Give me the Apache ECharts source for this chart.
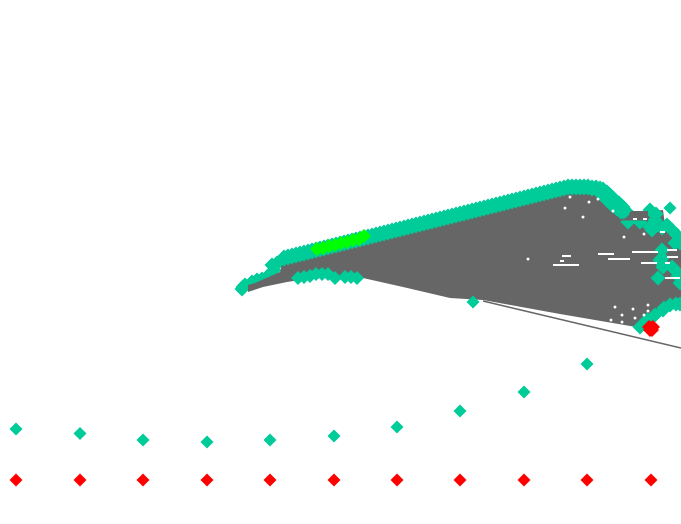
<!DOCTYPE html>
<html>
<head>
<meta charset="utf-8">
<style>
html, body { margin: 0; padding: 0; background: #fff; }
#main { width: 681px; height: 524px; }
</style>
<script src="https://cdn.jsdelivr.net/npm/echarts@6/dist/echarts.min.js"></script>
</head>
<body>
<div id="main"></div>
<script>
// outline of the gray mass, clockwise from the left tip
var grayOutline = [[248,285],[255,283],[280,272],[282,265],[290,260],[317,253],[368,239],[410,228],[450,218],[500,205],[550,193],[575,190],[597,191],[610,203],[627,221],[632,213],[663,210],[665,225],[681,237],[681,303],[665,308],[636,327],[560,314],[483,300],[450,298],[403,287],[363,278],[330,277],[300,280],[287,282],[263,287],[248,292]];
// gray that sits on top of the two hanging diamonds
var grayCap = [[631,211],[648,211],[648,220.5],[622,220.5],[628,216]];
var grayLine = [[483,301],[681,348]];

// single row points
var rowX = [16,80,143,207,270,334,397,460,524,587,651];
var tealY = [429,433.5,440,442,440,436,427,411,392,364,326];
var redY = [480,480,480,480,480,480,480,480,480,480,480];

// thick band along the top edge
var tealBand = [[284,258],[288,257],[292,256],[296,255],[300,254],[304,253],[308,252],[312,251],[316,250],[320,249],[324,248],[328,247],[332,246],[336,245],[340,244],[344,243],[348,242],[352,241],[356,240],[360,239],[364,238],[368,237],[372,236],[376,235],[380,234],[384,233],[388,232],[392,231],[396,230],[400,229],[404,228],[408,227],[412,226],[416,225],[420,224],[424,223],[428,222],[432,221],[436,220],[440,219],[444,218],[448,217],[452,216],[456,215],[460,214],[464,213],[468,212],[472,211],[476,210],[480,209],[484,208],[488,207],[492,206],[496,205],[500,204],[504,203],[508,202],[512,201],[516,200],[520,199],[524,198],[528,197],[532,196],[536,195],[540,194],[544,193],[548,192],[552,191],[556,190],[560,189],[564,188],[568,187],[572,187],[576,187],[580,187],[584,187],[588,187],[592,188],[596,188],[600,189],[603,190],[607,193],[610,196],[613,199],[616,202],[619,204],[622,207],[601,193],[605,197],[609,201],[613,205],[617,208],[621,211],[625,212],[628,214]];
// left arm, these sit under the gray
var tealUnder = [[243,287],[242,289],[245,285],[252,282],[257,280],[262,279],[267,277],[270,274],[274,270],[272,265],[277,263],[282,262]];
var tealInner = [[298,278],[304,277],[310,276],[316,274],[322,274],[328,274],[335,278],[345,277],[351,277],[357,278]];
var tealRight = [[650,210],[656,214],[655,220],[650,227],[652,230],[628,222],[640,222],[667,225],[662,228],[672,230],[677,235],[680,243],[675,243],[662,250],[662,258],[660,260],[662,263],[663,267],[672,267],[675,270],[658,278],[678,276],[680,283],[640,327],[647,320],[655,315],[663,310],[664,308],[670,305],[676,304],[680,304]];
var tealSingles = [[670,208],[473,302]];

var greenPts = [[317,249],[323,248],[329,246],[335,245],[341,243],[347,242],[353,240],[359,239],[364,236]];
var redCluster = [[651,328],[649,327],[653,327],[650,330],[652,330]];

var whiteDots = [[570,197],[565,208],[589,202],[598,199],[583,217],[613,211],[624,237],[644,234],[528,259],[615,307],[633,309],[648,305],[648,311],[622,315],[635,318],[644,315],[611,320],[622,322]];
// x1, x2, y
var whiteDashes = [[553,579,265],[562,571,256],[560,564,261],[598,614,254],[608,630,259],[632,658,252],[641,657,263],[667,677,250],[667,678,257],[665,680,278],[633,637,219],[643,647,219],[660,665,232],[665,670,263]];

function zipRow(xs, ys) {
    return xs.map(function (x, i) { return [x, ys[i]]; });
}

function grayPolygon(points, z) {
    return {
        type: 'custom',
        coordinateSystem: 'cartesian2d',
        data: [0],
        silent: true,
        z: z,
        renderItem: function (params, api) {
            return {
                type: 'polygon',
                shape: { points: points.map(function (p) { return api.coord(p); }) },
                style: { fill: '#666666' }
            };
        }
    };
}

function marks(data, color, size, z) {
    return {
        type: 'scatter',
        data: data,
        symbol: 'diamond',
        symbolSize: size,
        silent: true,
        z: z,
        itemStyle: { color: color, opacity: 1 }
    };
}

var chart = echarts.init(document.getElementById('main'), null, { renderer: 'canvas' });

chart.setOption({
    animation: false,
    backgroundColor: '#fff',
    grid: { left: 0, right: 0, top: 0, bottom: 0 },
    xAxis: { type: 'value', min: 0, max: 681, show: false },
    yAxis: { type: 'value', min: 0, max: 524, inverse: true, show: false },
    series: [
        marks(tealUnder, '#00cc99', 15, 1),
        grayPolygon(grayOutline, 2),
        {
            type: 'line',
            data: grayLine,
            symbol: 'none',
            silent: true,
            z: 2,
            lineStyle: { color: '#666666', width: 1.6 }
        },
        marks(tealBand, '#00cc99', 17, 4),
        marks(tealInner, '#00cc99', 14, 4),
        marks(tealRight, '#00cc99', 15, 4),
        marks(tealSingles.concat(zipRow(rowX, tealY)), '#00cc99', 13, 4),
        grayPolygon(grayCap, 5),
        marks(greenPts, '#00ff00', 14, 6),
        marks(zipRow(rowX, redY), '#ff0000', 13, 6),
        marks(redCluster, '#ff0000', 14, 6),
        {
            type: 'custom',
            coordinateSystem: 'cartesian2d',
            data: whiteDashes,
            silent: true,
            z: 7,
            encode: { x: [0, 1], y: 2 },
            renderItem: function (params, api) {
                var a = api.coord([api.value(0), api.value(2)]);
                var b = api.coord([api.value(1), api.value(2)]);
                return {
                    type: 'line',
                    shape: { x1: a[0], y1: a[1], x2: b[0], y2: b[1] },
                    style: { stroke: '#fff', lineWidth: 2 }
                };
            }
        },
        { type: 'scatter', data: whiteDots, symbol: 'circle', symbolSize: 3, silent: true, z: 7, itemStyle: { color: '#fff', opacity: 1 } }
    ]
});
</script>
</body>
</html>
